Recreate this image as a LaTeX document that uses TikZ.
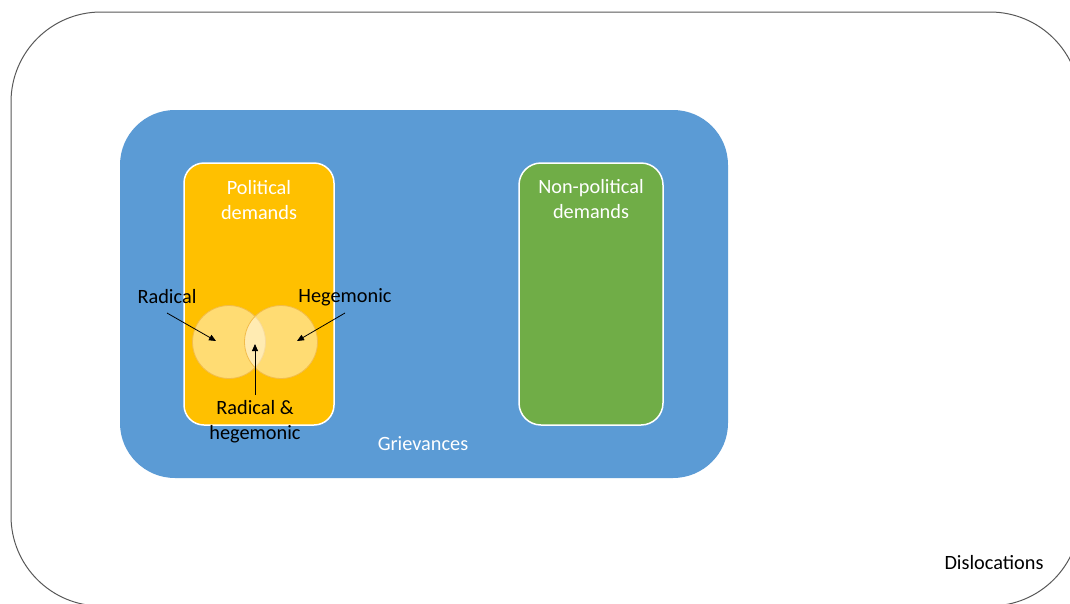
\documentclass[tikz,border=0pt]{standalone}
\usepackage{fontspec}
\setmainfont{Carlito}
\usetikzlibrary{arrows.meta}
\definecolor{oline}{HTML}{595959}
\definecolor{gblue}{HTML}{5B9BD5}
\definecolor{gorange}{HTML}{FFC000}
\definecolor{ggreen}{HTML}{70AD47}
\definecolor{cedge}{HTML}{F2BC4A}
\begin{document}
\begin{tikzpicture}[x=1pt,y=-1pt,
  box/.style={draw, rectangle, inner sep=0pt},
  lbl/.style={font=\fontsize{20.3}{25}\selectfont, inner sep=0pt, align=center},
  venn/.style={circle, minimum size=73pt, inner sep=0pt, draw=cedge, line width=0.8pt, fill=white, fill opacity=0.45},
  arr/.style={-{Triangle[length=7pt,width=6pt]}, line width=0.8pt, black}]
\useasboundingbox (0,0) rectangle (1070,603);
\fill[white] (0,0) rectangle (1070,603);
\node[box, draw=oline, line width=1pt, rounded corners=90pt, minimum width=1069pt, minimum height=594pt] (outer) at (545.5,309) {};
\node[box, draw=none, fill=gblue, rounded corners=55pt, minimum width=608pt, minimum height=368pt] (griev) at (424,294) {};
\node[box, draw=white, line width=1.5pt, fill=gorange, rounded corners=20pt, minimum width=150pt, minimum height=262pt] (pol) at (259,294) {};
\node[box, draw=white, line width=1.5pt, fill=ggreen, rounded corners=22pt, minimum width=144pt, minimum height=262pt] (npol) at (591,294) {};
\node[venn] (rad) at (229,342) {};
\node[venn] (heg) at (281,342) {};
\node[lbl, text=white] (poltxt) at (259,200) {Political\\demands};
\node[lbl, text=white] (npoltxt) at (591,199.5) {Non-political\\demands};
\node[lbl] (radtxt) at (167,297) {Radical};
\node[lbl] (hegtxt) at (345,297) {Hegemonic};
\node[lbl] (bothtxt) at (255,422) {Radical \&\\hegemonic};
\node[lbl, text=white] (grtxt) at (423,444) {Grievances};
\node[lbl] (distxt) at (994,563) {Dislocations};
\coordinate (radstart) at (167,313);
\coordinate (radtip) at (216,341);
\coordinate (hegstart) at (345,313);
\coordinate (hegtip) at (297,341);
\coordinate (bothstart) at (255,395);
\coordinate (bothtip) at (255,344);
\draw[arr] (radstart) -- (radtip);
\draw[arr] (hegstart) -- (hegtip);
\draw[arr] (bothstart) -- (bothtip);
\end{tikzpicture}
\end{document}
